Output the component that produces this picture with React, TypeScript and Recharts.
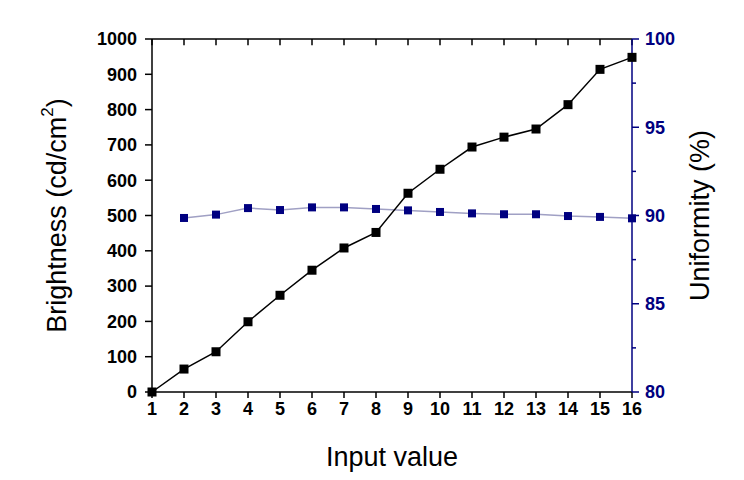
import { Line, LineChart, ReferenceLine, XAxis, YAxis } from 'recharts'

const inputValues = [1, 2, 3, 4, 5, 6, 7, 8, 9, 10, 11, 12, 13, 14, 15, 16]
const brightness = [0, 65, 114, 199, 274, 345, 408, 452, 563, 631, 694, 722, 745, 814, 914, 948]
const uniformity = [null, 89.86, 90.05, 90.42, 90.31, 90.46, 90.46, 90.37, 90.29, 90.2, 90.12, 90.07, 90.07, 89.97, 89.92, 89.84]

const brightnessTicks = [0, 100, 200, 300, 400, 500, 600, 700, 800, 900, 1000]
const uniformityTicks = [80, 82.5, 85, 87.5, 90, 92.5, 95, 97.5, 100]

const NAVY = '#000080'
const FONT = 'Arial, "Liberation Sans", sans-serif'

const data = inputValues.map((x, i) => ({
  input: x,
  brightness: brightness[i],
  uniformity: uniformity[i],
}))

const tickStyle = { fontFamily: FONT, fontSize: 18, fontWeight: 700, fill: '#000' }
const titleStyle = { fontFamily: FONT, fontSize: 27, fill: '#000' }

function SquareDot(size: number, color: string) {
  return (props: any) => {
    const { cx, cy, index } = props
    if (cx == null || cy == null || Number.isNaN(cy)) return <g key={index} />
    return <rect key={index} x={cx - size / 2} y={cy - size / 2} width={size} height={size} fill={color} />
  }
}

const RIGHT_OFFSET = 13

function RightTick(props: any) {
  const { x, y, payload } = props
  const v = payload.value as number
  const major = v % 5 === 0
  const ax = x - RIGHT_OFFSET
  return (
    <g>
      <line x1={ax} x2={ax + (major ? 7 : 4)} y1={y} y2={y} stroke={NAVY} strokeWidth={1.5} />
      {major && (
        <text x={x} y={y} dy="0.36em" textAnchor="start" style={{ ...tickStyle, fill: NAVY }}>
          {v}
        </text>
      )}
    </g>
  )
}

function BottomTitle(props: any) {
  const { viewBox } = props
  const cx = viewBox.x + viewBox.width / 2
  return (
    <text x={cx} y={457} textAnchor="middle" dominantBaseline="central" style={titleStyle}>
      Input value
    </text>
  )
}

function LeftTitle(props: any) {
  const { viewBox } = props
  const cx = 57
  const cy = viewBox.y + viewBox.height / 2
  return (
    <text
      x={cx}
      y={cy}
      transform={`rotate(-90 ${cx} ${cy})`}
      textAnchor="middle"
      dominantBaseline="central"
      style={titleStyle}
    >
      Brightness (cd/cm
      <tspan dy={-10} fontSize={17}>2</tspan>
      <tspan dy={10}>)</tspan>
    </text>
  )
}

function RightTitle(props: any) {
  const { viewBox } = props
  const cx = 700
  const cy = viewBox.y + viewBox.height / 2
  return (
    <text
      x={cx}
      y={cy}
      transform={`rotate(-90 ${cx} ${cy})`}
      textAnchor="middle"
      dominantBaseline="central"
      style={titleStyle}
    >
      Uniformity (%)
    </text>
  )
}

export default function App() {
  return (
    <div style={{ width: 744, height: 480, background: '#fff' }}>
      <style>{'body{margin:0;background:#fff}'}</style>
      <LineChart width={744} height={480} data={data} margin={{ top: 29, left: 92, right: 52, bottom: 48 }}>
        <XAxis
          xAxisId="bottom"
          dataKey="input"
          type="number"
          domain={[1, 16]}
          ticks={inputValues}
          interval={0}
          height={40}
          tickSize={6}
          tickMargin={4}
          stroke="#000"
          strokeWidth={1.5}
          tick={tickStyle}
          label={{ content: BottomTitle }}
        />
        <XAxis
          xAxisId="top"
          orientation="top"
          dataKey="input"
          type="number"
          domain={[1, 16]}
          height={10}
          tick={false}
          tickLine={false}
          stroke="#000"
          strokeWidth={1.5}
        />
        <YAxis
          yAxisId="left"
          domain={[0, 1000]}
          ticks={brightnessTicks}
          interval={0}
          width={60}
          tickSize={7}
          tickMargin={8}
          stroke="#000"
          strokeWidth={1.5}
          tick={tickStyle}
          label={{ content: LeftTitle }}
        />
        <YAxis
          yAxisId="right"
          orientation="right"
          domain={[80, 100]}
          ticks={uniformityTicks}
          interval={0}
          width={60}
          tickSize={7}
          tickMargin={6}
          tickLine={false}
          stroke={NAVY}
          strokeWidth={1.5}
          tick={RightTick}
          label={{ content: RightTitle }}
        />
        {/* inward ticks along the top frame */}
        {inputValues.map((v) => (
          <ReferenceLine
            key={v}
            xAxisId="bottom"
            yAxisId="left"
            segment={[
              { x: v, y: 1000 },
              { x: v, y: 982 },
            ]}
            stroke="#000"
            strokeWidth={1.5}
            ifOverflow="visible"
          />
        ))}
        <Line
          xAxisId="bottom"
          yAxisId="right"
          dataKey="uniformity"
          stroke="#a0a0c4"
          strokeWidth={1.5}
          dot={SquareDot(8, NAVY)}
          isAnimationActive={false}
          connectNulls
        />
        <Line
          xAxisId="bottom"
          yAxisId="left"
          dataKey="brightness"
          stroke="#000"
          strokeWidth={1.5}
          dot={SquareDot(9, '#000')}
          isAnimationActive={false}
        />
      </LineChart>
    </div>
  )
}
